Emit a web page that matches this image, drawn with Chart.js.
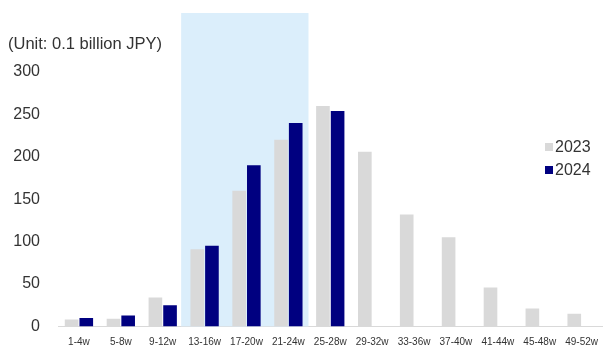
<!DOCTYPE html>
<html>
<head>
<meta charset="utf-8">
<script src="https://cdn.jsdelivr.net/npm/chart.js@4"></script>
<style>
  html, body { margin: 0; overflow: hidden; background: #fff; font-family: "Liberation Sans", Arial, sans-serif; }
  #wrap { position: absolute; left: 0; top: 0; width: 608px; height: 348px; overflow: hidden; }
  #unit { position: absolute; left: 8px; top: 34px; font-size: 16.5px; color: #333; }
  .leg { position: absolute; left: 545px; font-size: 16px; color: #333; line-height: 18px; }
  .leg span { display: inline-block; width: 8px; height: 8px; margin-right: 2px; vertical-align: 1px; }
</style>
</head>
<body>
<div id="wrap"><canvas id="weekChart" width="608" height="354" style="display:block"></canvas></div>
<div id="unit">(Unit: 0.1 billion JPY)</div>
<div class="leg" style="top:138px"><span style="background:#d9d9d9"></span>2023</div>
<div class="leg" style="top:161px"><span style="background:#000080"></span>2024</div>
<script>
const weeks = ['1-4w', '5-8w', '9-12w', '13-16w', '17-20w', '21-24w', '25-28w', '29-32w', '33-36w', '37-40w', '41-44w', '45-48w', '49-52w'];
const sales2023 = [8, 9, 34, 91, 160, 220, 260, 206, 132, 105, 46, 21, 15];
const sales2024 = [10, 13, 25, 95, 190, 240, 254, null, null, null, null, null, null];
const yTicks = [0, 50, 100, 150, 200, 250, 300];

// hellblå bakgrund bakom 13-16w .. 21-24w
const bandPlugin = {
  id: 'band',
  beforeDatasetsDraw(chart) {
    const x = chart.scales.x;
    const cat = x.getPixelForValue(1) - x.getPixelForValue(0);
    const left = x.getPixelForValue(3) - cat * 0.56;
    const right = x.getPixelForValue(5) + cat * 0.48;
    const ctx = chart.ctx;
    ctx.save();
    ctx.fillStyle = '#dbeefb';
    ctx.fillRect(left, 13, right - left, chart.chartArea.bottom - 13);
    ctx.restore();
  }
};

new Chart(document.getElementById('weekChart').getContext('2d'), {
  type: 'bar',
  data: {
    labels: weeks,
    datasets: [
      { label: '2023', data: sales2023, backgroundColor: '#d9d9d9', categoryPercentage: 0.7, barPercentage: 0.93 },
      { label: '2024', data: sales2024, backgroundColor: '#000080', categoryPercentage: 0.7, barPercentage: 0.93 }
    ]
  },
  options: {
    responsive: false,
    animation: false,
    layout: { padding: { top: 72, left: 0, right: 0, bottom: 0 } },
    plugins: { legend: { display: false }, tooltip: { enabled: false } },
    scales: {
      x: {
        afterFit: axis => { axis.height = 21; },
        grid: { display: false, drawTicks: false },
        border: { color: '#d9d9d9' },
        ticks: { color: '#333', font: { family: 'Liberation Sans', size: 10 }, maxRotation: 0, autoSkip: false, padding: 10 }
      },
      y: {
        min: 0,
        max: 300,
        afterBuildTicks: axis => { axis.ticks = yTicks.map(v => ({ value: v })); },
        afterFit: axis => { axis.width = 58; },
        grid: { display: false, drawTicks: false },
        border: { display: false },
        ticks: { color: '#333', font: { family: 'Liberation Sans', size: 16 }, padding: 18 }
      }
    }
  },
  plugins: [bandPlugin]
});
</script>
</body>
</html>
